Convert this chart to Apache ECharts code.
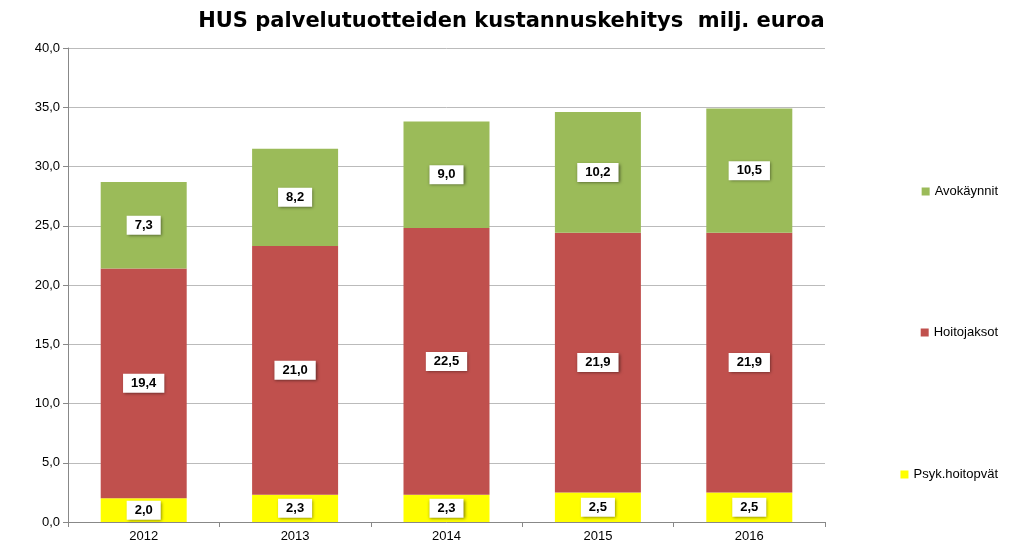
<!DOCTYPE html>
<html>
<head>
<meta charset="utf-8"/>
<script src="https://cdn.jsdelivr.net/npm/echarts@6.0.0/dist/echarts.min.js"></script>
</head>
<body style="margin:0">
<div id="chart" style="width:1023px;height:552px;"></div>
<script>
var years = ['2012', '2013', '2014', '2015', '2016'];
var psyk = [2.0, 2.3, 2.3, 2.5, 2.5];
var hoitojaksot = [19.4, 21.0, 22.5, 21.9, 21.9];
var avokaynnit = [7.3, 8.2, 9.0, 10.2, 10.5];

var label = {
    show: true,
    formatter: function (p) { return p.value.toFixed(1).replace('.', ','); },
    color: '#000',
    fontWeight: 'bold',
    fontSize: 13,
    fontFamily: 'Liberation Sans',
    backgroundColor: '#fff',
    padding: [3, 8],
    shadowColor: 'rgba(0,0,0,0.5)',
    shadowBlur: 3,
    shadowOffsetX: 1,
    shadowOffsetY: 1
};

function series(name, data, color) {
    return { name: name, type: 'bar', stack: 'a', data: data, barWidth: 86,
        itemStyle: { color: color }, label: label };
}

function legend(name, top) {
    return { data: [name], right: 20, top: top, orient: 'vertical', itemWidth: 8, itemHeight: 8,
        icon: 'rect', textStyle: { fontFamily: 'Liberation Sans', fontSize: 13, color: '#000' } };
}

var chart = echarts.init(document.getElementById('chart'));
chart.setOption({
    animation: false,
    backgroundColor: '#fff',
    title: { text: 'HUS palvelutuotteiden kustannuskehitys  milj. euroa', left: 'center', top: 6,
        textStyle: { fontFamily: 'DejaVu Sans', fontSize: 21, fontWeight: 'bold', color: '#000' } },
    grid: { left: 68, right: 198, top: 48, bottom: 30 },
    legend: [legend('Avokäynnit', 180), legend('Hoitojaksot', 321), legend('Psyk.hoitopvät', 463)],
    xAxis: { type: 'category', data: years,
        axisLine: { lineStyle: { color: '#888' } }, axisTick: { show: true, alignWithLabel: false },
        axisLabel: { color: '#000', fontSize: 13, fontFamily: 'Liberation Sans' } },
    yAxis: { type: 'value', min: 0, max: 40, interval: 5,
        axisLine: { show: true, lineStyle: { color: '#888' } }, axisTick: { show: true },
        splitLine: { lineStyle: { color: '#bbb' } },
        axisLabel: { color: '#000', fontSize: 13, fontFamily: 'Liberation Sans',
            formatter: function (v) { return v.toFixed(1).replace('.', ','); } } },
    series: [
        series('Psyk.hoitopvät', psyk, '#FFFF00'),
        series('Hoitojaksot', hoitojaksot, '#C0504D'),
        series('Avokäynnit', avokaynnit, '#9BBB59')
    ]
});
</script>
</body>
</html>
